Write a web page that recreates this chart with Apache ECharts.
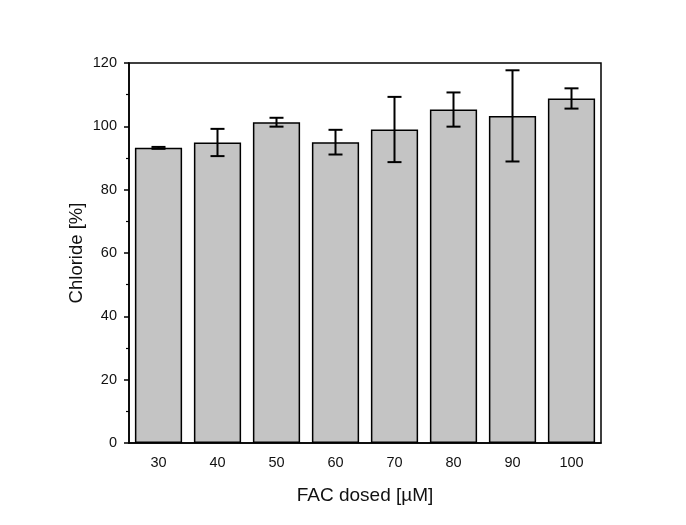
<!DOCTYPE html>
<html>
<head>
<meta charset="utf-8">
<script src="https://cdn.jsdelivr.net/npm/echarts@6/dist/echarts.min.js"></script>
<style>
  html, body { margin: 0; padding: 0; background: #fff; }
  #chart { width: 686px; height: 525px; }
</style>
</head>
<body>
<div id="chart"></div>
<script>
// FAC dose levels (µM) and the chloride recovered at each dose
const categories = ['30', '40', '50', '60', '70', '80', '90', '100'];
const chlorideMean = [93.2, 94.9, 101.3, 95.0, 99.0, 105.3, 103.3, 108.8];
const chlorideErr = [0.3, 4.3, 1.4, 3.9, 10.3, 5.4, 14.4, 3.2];

const errorData = categories.map((c, i) => [i, chlorideMean[i] - chlorideErr[i], chlorideMean[i] + chlorideErr[i]]);

const chart = echarts.init(document.getElementById('chart'));
const font = 'Liberation Sans, Arial, sans-serif';

chart.setOption({
  backgroundColor: '#fff',
  animation: false,
  grid: {
    left: 129, right: 85, top: 63, bottom: 82,
    show: true, borderColor: '#000', borderWidth: 1.5, backgroundColor: 'transparent'
  },
  xAxis: {
    type: 'category',
    data: categories,
    name: 'FAC dosed [µM]',
    nameLocation: 'middle',
    nameMoveOverlap: false,
    nameGap: 43,
    nameTextStyle: { fontFamily: font, fontSize: 19, color: '#111' },
    axisLine: { lineStyle: { color: '#000', width: 1.5 } },
    axisTick: { alignWithLabel: true, length: 5, lineStyle: { color: '#000', width: 1.5 } },
    axisLabel: { fontFamily: font, fontSize: 14.5, color: '#111', margin: 12 },
    splitLine: { show: false }
  },
  yAxis: {
    type: 'value',
    min: 0, max: 120, interval: 20,
    name: 'Chloride [%]',
    nameLocation: 'middle',
    nameMoveOverlap: false,
    nameGap: 43,
    nameTextStyle: { fontFamily: font, fontSize: 18.5, color: '#111' },
    axisLine: { show: true, lineStyle: { color: '#000', width: 1.5 } },
    axisTick: { show: true, length: 5, lineStyle: { color: '#000', width: 1.5 } },
    minorTick: { show: true, splitNumber: 2, length: 3, lineStyle: { color: '#000', width: 1.2 } },
    axisLabel: { fontFamily: font, fontSize: 14.5, color: '#111', margin: 12 },
    splitLine: { show: false },
    minorSplitLine: { show: false }
  },
  series: [
    {
      type: 'bar',
      data: chlorideMean,
      barCategoryGap: '20%',
      itemStyle: { color: '#c4c4c4', borderColor: '#000', borderWidth: 1.5 },
      z: 2
    },
    {
      type: 'custom',
      data: errorData,
      z: 5,
      renderItem: function (params, api) {
        const i = api.value(0);
        const lo = api.coord([i, api.value(1)]);
        const hi = api.coord([i, api.value(2)]);
        const half = 7;
        const style = { stroke: '#000', lineWidth: 2 };
        return {
          type: 'group',
          children: [
            { type: 'line', shape: { x1: hi[0], y1: hi[1], x2: lo[0], y2: lo[1] }, style: style },
            { type: 'line', shape: { x1: hi[0] - half, y1: hi[1], x2: hi[0] + half, y2: hi[1] }, style: style },
            { type: 'line', shape: { x1: lo[0] - half, y1: lo[1], x2: lo[0] + half, y2: lo[1] }, style: style }
          ]
        };
      }
    }
  ]
});
</script>
</body>
</html>
